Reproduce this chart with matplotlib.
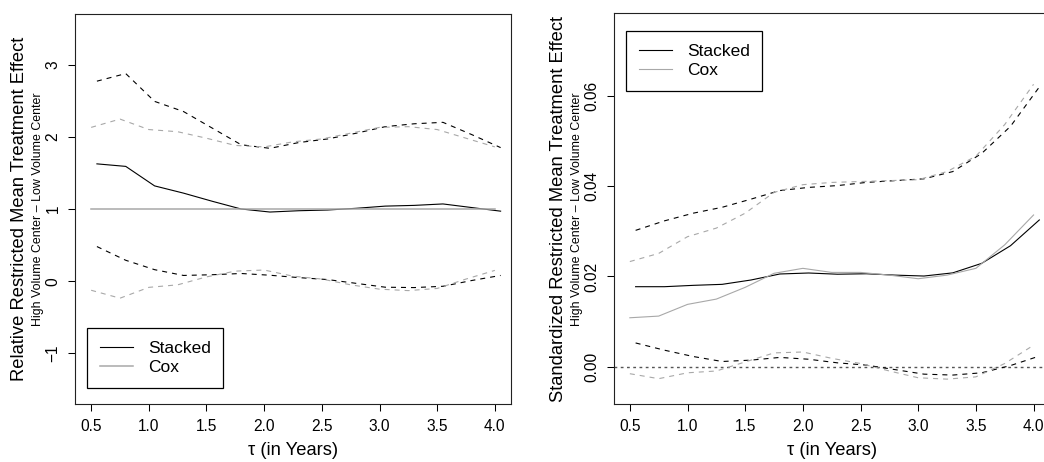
import matplotlib
matplotlib.use("Agg")
import matplotlib.pyplot as plt

plt.rcParams['font.family'] = ['Liberation Sans', 'DejaVu Sans']

# ---------------- data ----------------
tau_cox = [0.50, 0.75, 1.00, 1.25, 1.50, 1.75, 2.00, 2.25, 2.50, 2.75, 3.00, 3.25, 3.50, 3.75, 4.00]
tau_stacked = [0.55, 0.80, 1.05, 1.30, 1.55, 1.80, 2.05, 2.30, 2.55, 2.80, 3.05, 3.30, 3.55, 3.80, 4.05]

# Relative restricted mean treatment effect (left panel)
rel_stacked = [1.625, 1.59, 1.32, 1.22, 1.107, 1.0, 0.958, 0.976, 0.986, 1.01, 1.04, 1.05, 1.07, 1.02, 0.97]
rel_stacked_hi = [2.77, 2.875, 2.49, 2.35, 2.12, 1.89, 1.84, 1.92, 1.97, 2.05, 2.14, 2.18, 2.20, 2.03, 1.85]
rel_stacked_lo = [0.48, 0.29, 0.16, 0.08, 0.09, 0.107, 0.083, 0.05, 0.023, -0.03, -0.083, -0.088, -0.07, 0.01, 0.08]
rel_cox = [1.0] * 15
rel_cox_hi = [2.13, 2.245, 2.10, 2.07, 1.98, 1.88, 1.86, 1.93, 1.97, 2.05, 2.13, 2.14, 2.10, 1.98, 1.86]
rel_cox_lo = [-0.125, -0.235, -0.085, -0.05, 0.06, 0.14, 0.155, 0.07, 0.03, -0.05, -0.11, -0.13, -0.10, 0.03, 0.15]

# Standardized restricted mean treatment effect (right panel)
std_stacked = [0.01774, 0.01774, 0.01804, 0.01826, 0.01922, 0.02055, 0.02077, 0.0205, 0.0206, 0.0203, 0.0201, 0.0208, 0.0229, 0.0268, 0.0325]
std_stacked_hi = [0.0302, 0.0323, 0.0340, 0.0353, 0.0371, 0.0390, 0.0397, 0.0401, 0.0408, 0.0412, 0.0416, 0.0432, 0.0472, 0.0532, 0.0619]
std_stacked_lo = [0.0053, 0.0037, 0.0023, 0.0012, 0.0015, 0.0021, 0.0017, 0.0009, 0.0004, -0.0006, -0.0016, -0.0018, -0.0013, 0.0003, 0.0024]
std_cox = [0.01087, 0.01124, 0.01383, 0.0150, 0.0176, 0.0207, 0.0218, 0.0209, 0.0209, 0.0203, 0.0195, 0.0203, 0.0218, 0.0270, 0.0336]
std_cox_hi = [0.0233, 0.0251, 0.0288, 0.0307, 0.0340, 0.0386, 0.0403, 0.0408, 0.0410, 0.0412, 0.0414, 0.0432, 0.0466, 0.0536, 0.0625]
std_cox_lo = [-0.0015, -0.0026, -0.0013, -0.0009, 0.0011, 0.0031, 0.0033, 0.0019, 0.00075, -0.0009, -0.0024, -0.0027, -0.0022, 0.00075, 0.0048]

x_ticks = [0.5, 1.0, 1.5, 2.0, 2.5, 3.0, 3.5, 4.0]
x_ticklabels = ["0.5", "1.0", "1.5", "2.0", "2.5", "3.0", "3.5", "4.0"]
left_yticks = [-1, 0, 1, 2, 3]
left_yticklabels = ["\u22121", "0", "1", "2", "3"]
right_yticks = [0.0, 0.02, 0.04, 0.06]
right_yticklabels = ["0.00", "0.02", "0.04", "0.06"]

series_names = ["Stacked", "Cox"]
xlabel = "\u03c4 (in Years)"
left_ylabel = "Relative Restricted Mean Treatment Effect"
right_ylabel = "Standardized Restricted Mean Treatment Effect"
sub_ylabel = "High Volume Center \u2013 Low Volume Center"

# ---------------- style ----------------
W, H = 1044, 462
fig = plt.figure(figsize=(W / 100, H / 100), dpi=100)

BLACK = "black"
GRAY = "#a8a8a8"
LW = 0.8
DASH = (0, (4.5, 4.5))


def px_axes(left, top, right, bottom):
    return fig.add_axes([left / W, 1 - bottom / H, (right - left) / W, (bottom - top) / H])


def style(ax, yticks, yticklabels, ylim):
    ax.set_xlim(0.36, 4.14)
    ax.set_ylim(*ylim)
    ax.set_xticks(x_ticks)
    ax.set_xticklabels(x_ticklabels)
    ax.set_yticks(yticks)
    ax.set_yticklabels(yticklabels, rotation=90, va="center")
    ax.tick_params(direction="out", length=5, width=0.75, labelsize=11.2, pad=5.5, colors="black")
    for s in ax.spines.values():
        s.set_linewidth(0.8)
        s.set_color("#222222")
    ax.set_xlabel(xlabel, fontsize=13.2, labelpad=6)


def legend(ax, anchor):
    leg = ax.legend(loc="lower left", bbox_to_anchor=anchor, mode="expand", borderaxespad=0,
                    fontsize=12.5, handlelength=1.9, handletextpad=0.9, labelspacing=0.22,
                    borderpad=0.75, fancybox=False, framealpha=1, edgecolor="black")
    leg.get_frame().set_linewidth(0.9)


# Left panel
ax1 = px_axes(75, 14, 511, 404)
l1, = ax1.plot(tau_stacked, rel_stacked, color=BLACK, lw=LW, label=series_names[0])
l2, = ax1.plot(tau_cox, rel_cox, color=GRAY, lw=1.1, label=series_names[1])
ax1.plot(tau_stacked, rel_stacked_hi, color=BLACK, lw=LW, linestyle=DASH)
ax1.plot(tau_stacked, rel_stacked_lo, color=BLACK, lw=LW, linestyle=DASH)
ax1.plot(tau_cox, rel_cox_hi, color=GRAY, lw=LW, linestyle=DASH)
ax1.plot(tau_cox, rel_cox_lo, color=GRAY, lw=LW, linestyle=DASH)
style(ax1, left_yticks, left_yticklabels, (-1.7, 3.7))
legend(ax1, (0.0275, 0.041, 0.312, 0.164))

# Right panel
ax2 = px_axes(613.7, 13.3, 1049.7, 404)
ax2.axhline(0, color="#555555", lw=1.0, linestyle=(0, (2, 2.5)))
ax2.plot(tau_stacked, std_stacked, color=BLACK, lw=LW, label=series_names[0])
ax2.plot(tau_cox, std_cox, color=GRAY, lw=LW, label=series_names[1])
ax2.plot(tau_stacked, std_stacked_hi, color=BLACK, lw=LW, linestyle=DASH)
ax2.plot(tau_stacked, std_stacked_lo, color=BLACK, lw=LW, linestyle=DASH)
ax2.plot(tau_cox, std_cox_hi, color=GRAY, lw=LW, linestyle=DASH)
ax2.plot(tau_cox, std_cox_lo, color=GRAY, lw=LW, linestyle=DASH)
style(ax2, right_yticks, right_yticklabels, (-0.0082, 0.0782))
legend(ax2, (0.028, 0.801, 0.312, 0.161))

# y-axis labels (title + subtitle)
yc = 1 - 209 / H
fig.text(20 / W, yc, left_ylabel, rotation=90, ha="center", va="center", fontsize=13.2)
fig.text(38 / W, yc, sub_ylabel, rotation=90, ha="center", va="center", fontsize=8.9)
fig.text(558.7 / W, yc, right_ylabel, rotation=90, ha="center", va="center", fontsize=13.2)
fig.text(577 / W, yc, sub_ylabel, rotation=90, ha="center", va="center", fontsize=8.9)

fig.savefig("out.png", dpi=100)
